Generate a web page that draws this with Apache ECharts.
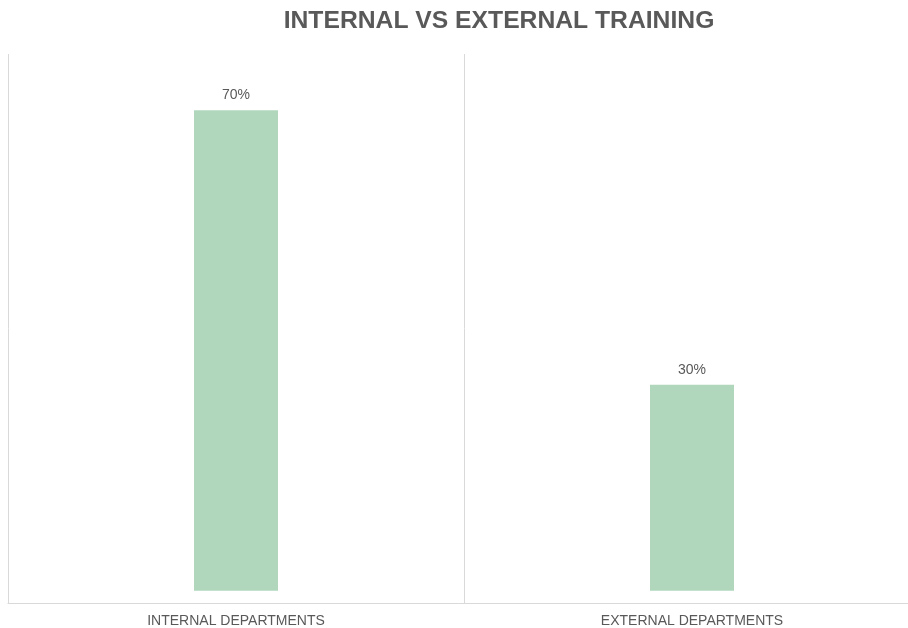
<!DOCTYPE html>
<html>
<head>
<meta charset="utf-8">
<script src="https://cdn.jsdelivr.net/npm/echarts@6/dist/echarts.min.js"></script>
<style>html,body{margin:0;padding:0;background:#fff;}#c{width:908px;height:628px;}</style>
</head>
<body>
<div id="c"></div>
<script>
const categories = ["INTERNAL DEPARTMENTS", "EXTERNAL DEPARTMENTS"];
const values = [70, 30];
const titleText = "INTERNAL VS EXTERNAL TRAINING";

const chart = echarts.init(document.getElementById('c'), null, {renderer: 'canvas'});
chart.setOption({
  animation: false,
  backgroundColor: '#ffffff',
  title: {
    text: titleText,
    left: 494, top: 4, textAlign: 'center',
    textStyle: {fontFamily: 'Liberation Sans, Arial, sans-serif', fontSize: 24.7, fontWeight: 'bold', color: '#595959'}
  },
  grid: {left: 8, top: 54, right: -12, bottom: 25, containLabel: false, outerBoundsMode: 'none'},
  xAxis: {
    type: 'category', data: categories, boundaryGap: true,
    axisLine: {show: true, onZero: false, lineStyle: {color: '#d9d9d9', width: 1}},
    axisTick: {show: false},
    axisLabel: {color: '#595959', fontSize: 14, fontFamily: 'Liberation Sans, Arial, sans-serif', margin: 11},
    splitLine: {show: true, lineStyle: {color: '#d9d9d9', width: 1}}
  },
  yAxis: {
    type: 'value', min: -1.8, max: 78.2,
    show: true,
    axisLine: {show: false}, axisTick: {show: false}, axisLabel: {show: false},
    splitLine: {show: false}
  },
  series: [{
    type: 'bar', data: values, barWidth: 84,
    itemStyle: {color: '#b0d7bc'},
    label: {show: true, position: 'top', distance: 8, formatter: p => p.value + '%', color: '#595959', fontSize: 14, fontFamily: 'Liberation Sans, Arial, sans-serif'}
  }]
});
</script>
</body>
</html>
